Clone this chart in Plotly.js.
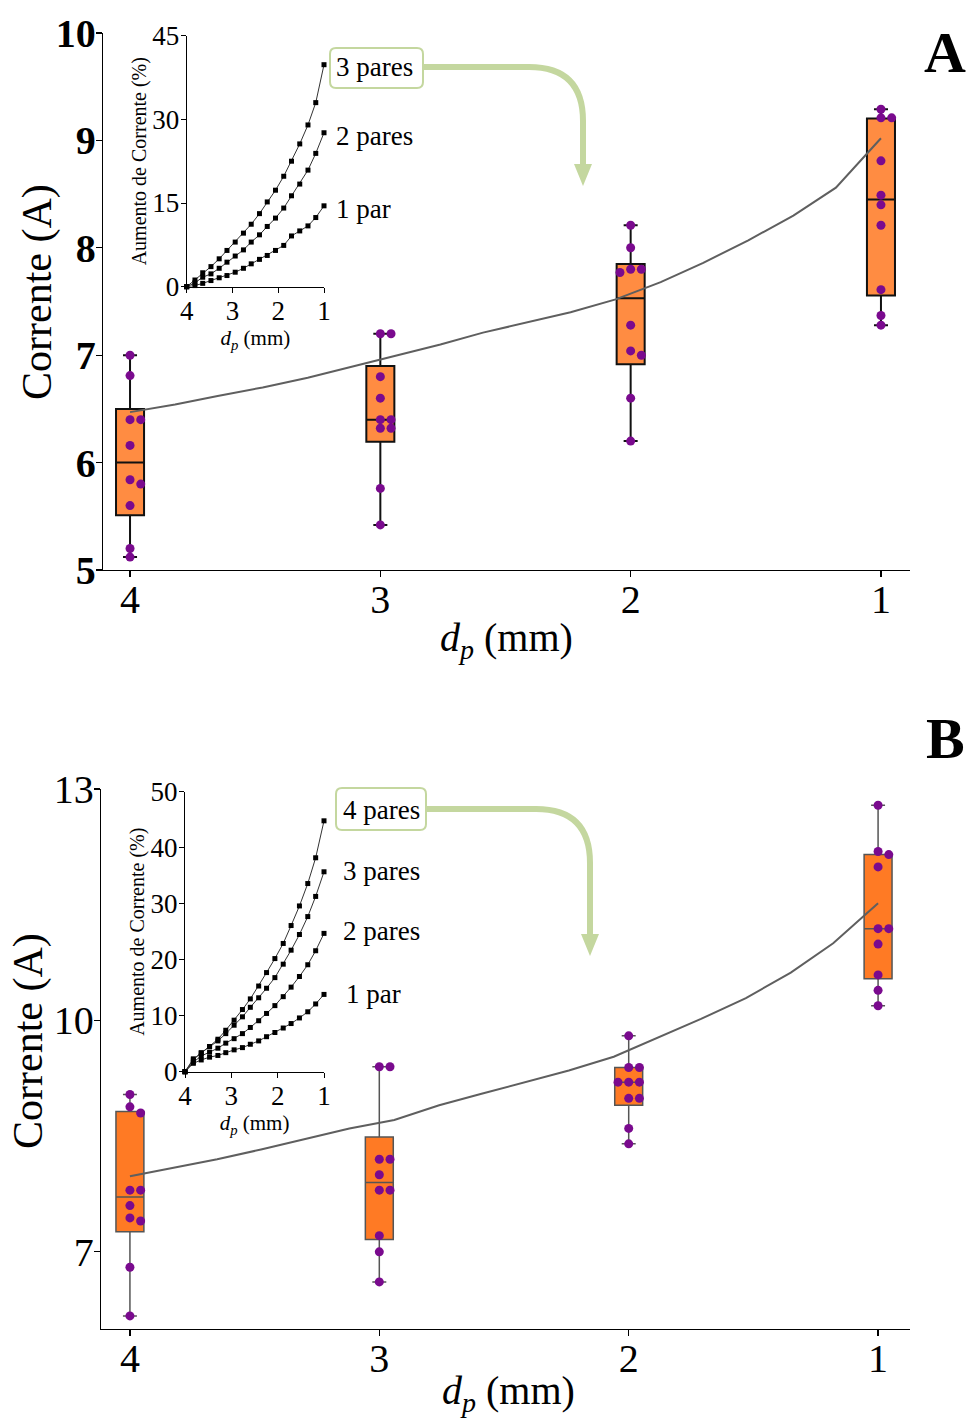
<!DOCTYPE html>
<html>
<head>
<meta charset="utf-8">
<script src="https://cdn.plot.ly/plotly-3.0.1.min.js"></script>
<style>html,body{margin:0;padding:0;background:#fff;}#chart{width:968px;height:1419px;}</style>
</head>
<body>
<div id="chart"></div>
<script>
// ---------------- DATA ----------------
const dpGroups = [4, 3, 2, 1];
const dpTickText = ['4', '3', '2', '1'];

// Panel A – individual measurements (A) per dp
const currentA_dp4 = [7.00, 6.81, 6.40, 6.40, 6.16, 5.84, 5.80, 5.60, 5.20, 5.12];
const currentA_dp3 = [7.20, 7.20, 6.80, 6.60, 6.40, 6.40, 6.32, 6.32, 5.76, 5.42];
const currentA_dp2 = [8.21, 8.00, 7.80, 7.80, 7.77, 7.28, 7.04, 7.00, 6.60, 6.20];
const currentA_dp1 = [9.29, 9.21, 9.21, 8.81, 8.49, 8.40, 8.21, 7.61, 7.37, 7.28];
// Panel A – box statistics
const lowA  = [5.12, 5.42, 6.20, 7.28];
const q1A   = [5.51, 6.195, 6.915, 7.555];
const medA  = [6.00, 6.40, 7.53, 8.45];
const q3A   = [6.50, 6.90, 7.85, 9.205];
const highA = [7.00, 7.20, 8.21, 9.29];

// Panel B – individual measurements
const currentB_dp4 = [9.04, 8.88, 8.80, 7.80, 7.80, 7.60, 7.44, 7.40, 6.80, 6.17];
const currentB_dp3 = [9.40, 9.40, 8.20, 8.20, 8.00, 7.80, 7.80, 7.21, 7.00, 6.61];
const currentB_dp2 = [9.80, 9.39, 9.39, 9.20, 9.20, 9.20, 8.99, 8.99, 8.60, 8.40];
const currentB_dp1 = [12.79, 12.19, 12.15, 11.99, 11.19, 11.19, 10.99, 10.59, 10.39, 10.19];
// Panel B – box statistics
const lowB  = [6.17, 6.61, 8.40, 10.19];
const q1B   = [7.26, 7.16, 8.90, 10.54];
const medB  = [7.71, 7.90, 9.20, 11.19];
const q3B   = [8.82, 8.49, 9.39, 12.15];
const highB = [9.04, 9.40, 9.80, 12.79];

// Model curves (dp grid)
const dpLine = [4.00, 3.82, 3.65, 3.47, 3.29, 3.12, 2.94, 2.76, 2.59, 2.41, 2.24, 2.06, 1.88, 1.71, 1.53, 1.35, 1.18, 1.00];
const modelA = [6.47, 6.54, 6.62, 6.70, 6.79, 6.89, 6.99, 7.10, 7.21, 7.31, 7.40, 7.52, 7.68, 7.86, 8.07, 8.30, 8.56, 9.02];
const modelB = [7.98, 8.09, 8.20, 8.33, 8.47, 8.60, 8.71, 8.90, 9.05, 9.20, 9.35, 9.53, 9.78, 10.02, 10.29, 10.62, 11.00, 11.52];

// Insets – current increase (%)
const incA_3pares = [0, 1.2, 2.5, 3.6, 5.0, 6.5, 8.0, 9.6, 11.2, 13.1, 15.2, 17.3, 19.8, 22.5, 25.6, 29.0, 33.0, 39.8];
const incA_2pares = [0, 0.7, 1.7, 2.3, 3.3, 4.4, 5.5, 6.6, 8.0, 9.3, 10.8, 12.3, 14.1, 16.3, 18.4, 20.9, 23.9, 27.6];
const incA_1par   = [0, 0.2, 0.6, 1.1, 1.6, 2.0, 2.6, 3.3, 4.1, 4.9, 5.6, 6.5, 7.4, 9.1, 10.0, 10.9, 12.4, 14.5];
const incB_4pares = [0, 2.3, 3.3, 4.5, 5.8, 7.4, 9.2, 11.1, 13.0, 15.3, 17.7, 20.2, 22.9, 26.1, 29.6, 33.6, 38.2, 44.8];
const incB_3pares = [0, 2.1, 3.4, 4.5, 5.5, 6.8, 8.3, 9.8, 11.5, 13.2, 14.9, 16.8, 19.2, 21.7, 24.5, 27.7, 31.3, 35.7];
const incB_2pares = [0, 1.7, 2.8, 3.5, 4.2, 5.1, 5.9, 6.8, 7.9, 9.1, 10.4, 11.8, 13.4, 15.1, 17.0, 19.1, 21.6, 24.7];
const incB_1par   = [0, 1.5, 2.1, 2.6, 2.9, 3.4, 3.9, 4.3, 4.9, 5.5, 6.25, 7.0, 7.8, 8.6, 9.6, 10.7, 12.1, 13.8];

const labelsA = ['3 pares', '2 pares', '1 par'];
const labelsB = ['4 pares', '3 pares', '2 pares', '1 par'];
const yTitle = 'Corrente (A)';
const xTitle = '<i>d<sub>p</sub></i> (mm)';
const insetYTitle = 'Aumento de Corrente (%)';

// ---------------- LAYOUT GEOMETRY ----------------
const W = 968, H = 1419;
const SERIF = '"Liberation Serif", "Times New Roman", "DejaVu Serif", serif';
const px = x => x / W;
const py = y => 1 - y / H;

const axA = {xdom: [px(103), px(910)], ydom: [py(570), py(33)], xr: [4.108, 0.884], yr: [5, 10]};
const axB = {xdom: [px(101), px(910)], ydom: [py(1329), py(789)], xr: [4.116, 0.872], yr: [6, 13]};
const inA = {xdom: [px(186.7), px(324)], ydom: [py(286.7), py(35.7)], xr: [4, 1], yr: [0, 45]};
const inB = {xdom: [px(185), px(324)], ydom: [py(1071.7), py(791.7)], xr: [4, 1], yr: [0, 50]};

function scale(ax) {
  return {
    x: (ax.xdom[1] - ax.xdom[0]) * W / (ax.xr[0] - ax.xr[1]),   // px per dp (reversed axis)
    y: (ax.ydom[1] - ax.ydom[0]) * H / (ax.yr[1] - ax.yr[0])
  };
}

// simple beeswarm: offset overlapping dots sideways
function swarmX(vals, center, sc) {
  const diam = 8, step = 10.7;
  const order = vals.map((v, i) => ({v, i})).sort((a, b) => b.v - a.v);
  const placed = [];
  const off = new Array(vals.length).fill(0);
  const cands = [0, step, -step, 2 * step, -2 * step, 3 * step, -3 * step];
  for (const p of order) {
    const yp = p.v * sc.y;
    for (const c of cands) {
      if (placed.every(q => Math.hypot(q.x - c, q.y - yp) >= diam)) {
        placed.push({x: c, y: yp});
        off[p.i] = c;
        break;
      }
    }
  }
  return vals.map((v, i) => center - off[i] / sc.x);
}

function pointsTrace(groups, ax, xa, ya) {
  const sc = scale(ax);
  let xs = [], ys = [];
  groups.forEach((vals, gi) => {
    xs = xs.concat(swarmX(vals, dpGroups[gi], sc));
    ys = ys.concat(vals);
  });
  return {type: 'scatter', mode: 'markers', x: xs, y: ys, xaxis: xa, yaxis: ya,
    marker: {color: '#7a0a8e', size: 9}, cliponaxis: false, showlegend: false, hoverinfo: 'y'};
}

function boxTrace(q1, med, q3, lo, hi, xa, ya, fill, lineColor, lineW) {
  return {type: 'box', x: dpGroups, q1: q1, median: med, q3: q3, lowerfence: lo, upperfence: hi,
    xaxis: xa, yaxis: ya, width: 0.112, whiskerwidth: 0.5, boxpoints: false,
    fillcolor: fill, line: {color: lineColor, width: lineW}, showlegend: false};
}

function lineTrace(y, xa, ya) {
  return {type: 'scatter', mode: 'lines', x: dpLine, y: y, xaxis: xa, yaxis: ya,
    line: {color: '#5f5f5f', width: 2}, showlegend: false};
}

function insetTrace(y, xa, ya) {
  return {type: 'scatter', mode: 'lines+markers', x: dpLine, y: y, xaxis: xa, yaxis: ya,
    line: {color: '#333', width: 1}, marker: {symbol: 'square', size: 5, color: '#000'},
    cliponaxis: false, showlegend: false};
}

const traces = [
  lineTrace(modelA, 'x', 'y'),
  boxTrace(q1A, medA, q3A, lowA, highA, 'x', 'y', 'rgba(255,118,30,0.84)', '#111', 2),
  pointsTrace([currentA_dp4, currentA_dp3, currentA_dp2, currentA_dp1], axA, 'x', 'y'),
  boxTrace(q1B, medB, q3B, lowB, highB, 'x2', 'y2', '#ff7a24', '#555', 1.5),
  lineTrace(modelB, 'x2', 'y2'),
  pointsTrace([currentB_dp4, currentB_dp3, currentB_dp2, currentB_dp1], axB, 'x2', 'y2'),
  insetTrace(incA_3pares, 'x3', 'y3'),
  insetTrace(incA_2pares, 'x3', 'y3'),
  insetTrace(incA_1par, 'x3', 'y3'),
  insetTrace(incB_4pares, 'x4', 'y4'),
  insetTrace(incB_3pares, 'x4', 'y4'),
  insetTrace(incB_2pares, 'x4', 'y4'),
  insetTrace(incB_1par, 'x4', 'y4')
];

function mainX(ax, anchor) {
  return {domain: ax.xdom, range: ax.xr, anchor: anchor, tickvals: dpGroups, ticktext: dpTickText,
    ticks: 'outside', ticklen: 6, tickwidth: 1.2, tickcolor: '#000', ticklabelstandoff: -12,
    showline: true, linecolor: '#000', linewidth: 1.2, showgrid: false, zeroline: false,
    tickfont: {family: SERIF, size: 40, color: '#000'}, automargin: false};
}
function mainY(ax, anchor, tickvals, bold) {
  return {domain: ax.ydom, range: ax.yr, anchor: anchor, tickvals: tickvals,
    ticks: 'outside', ticklen: 6, tickwidth: 1.2, tickcolor: '#000', ticklabelstandoff: -8,
    showline: true, linecolor: '#000', linewidth: 1.2, showgrid: false, zeroline: false,
    tickfont: {family: SERIF, size: 40, color: '#000', weight: bold ? 'bold' : 'normal'}, automargin: false};
}
function insetX(ax, anchor) {
  return {domain: ax.xdom, range: ax.xr, anchor: anchor, tickvals: dpGroups, ticktext: dpTickText,
    ticks: 'outside', ticklen: 5, tickwidth: 1, tickcolor: '#000', ticklabelstandoff: -5,
    showline: true, linecolor: '#000', linewidth: 1, showgrid: false, zeroline: false,
    tickfont: {family: SERIF, size: 27, color: '#000'}, automargin: false,
    title: {text: xTitle, font: {family: SERIF, size: 21, color: '#000'}, standoff: 4}};
}
function insetY(ax, anchor, dtick) {
  return {domain: ax.ydom, range: ax.yr, anchor: anchor, dtick: dtick, tick0: 0,
    ticks: 'outside', ticklen: 5, tickwidth: 1, tickcolor: '#000', ticklabelstandoff: -4,
    showline: true, linecolor: '#000', linewidth: 1, showgrid: false, zeroline: false,
    tickfont: {family: SERIF, size: 27, color: '#000'}, automargin: false,
    title: {text: insetYTitle, font: {family: SERIF, size: 20, color: '#000'}, standoff: 0}};
}

// decorations (paper pixel helpers)
const P = (x, y) => `${px(x)},${py(y)}`;
function roundRect(x0, y0, x1, y1, r) {
  return `M${P(x0 + r, y0)} L${P(x1 - r, y0)} Q${P(x1, y0)} ${P(x1, y0 + r)} L${P(x1, y1 - r)} Q${P(x1, y1)} ${P(x1 - r, y1)} L${P(x0 + r, y1)} Q${P(x0, y1)} ${P(x0, y1 - r)} L${P(x0, y0 + r)} Q${P(x0, y0)} ${P(x0 + r, y0)} Z`;
}
function bentArrow(x0, y0, xc, r, yEnd) {
  return `M${P(x0, y0)} L${P(xc - r, y0)} Q${P(xc, y0)} ${P(xc, y0 + r)} L${P(xc, yEnd)}`;
}
function head(xc, yTop, tip, hw) {
  return `M${P(xc - hw, yTop)} L${P(xc + hw, yTop)} L${P(xc, tip)} Z`;
}
const GREEN = '#c4d79f';
const shapes = [
  {type: 'path', xref: 'paper', yref: 'paper', path: bentArrow(423, 67, 583, 54, 166), line: {color: GREEN, width: 6}, layer: 'above'},
  {type: 'path', xref: 'paper', yref: 'paper', path: head(583, 164, 186, 9), fillcolor: GREEN, line: {width: 0}, layer: 'above'},
  {type: 'path', xref: 'paper', yref: 'paper', path: roundRect(330, 48, 423, 88, 6), fillcolor: '#fff', line: {color: GREEN, width: 2}, layer: 'above'},
  {type: 'path', xref: 'paper', yref: 'paper', path: bentArrow(426, 809, 590, 54, 936), line: {color: GREEN, width: 6}, layer: 'above'},
  {type: 'path', xref: 'paper', yref: 'paper', path: head(590, 934, 956, 9), fillcolor: GREEN, line: {width: 0}, layer: 'above'},
  {type: 'path', xref: 'paper', yref: 'paper', path: roundRect(336, 788, 426, 830, 6), fillcolor: '#fff', line: {color: GREEN, width: 2}, layer: 'above'}
];

function curveLabel(text, yv, xa, ya, xshift, yshift) {
  return {text: text, x: 1, y: yv, xref: xa, yref: ya, xanchor: 'left', yanchor: 'middle',
    xshift: xshift, yshift: yshift, showarrow: false, font: {family: SERIF, size: 27, color: '#000'}};
}
function titleAnn(text, cx, cy, angle, size) {
  return {text: text, x: px(cx), y: py(cy), xref: 'paper', yref: 'paper', xanchor: 'center', yanchor: 'middle',
    textangle: angle, showarrow: false, font: {family: SERIF, size: size, color: '#000'}};
}
const lastOf = a => a[a.length - 1];
const annotations = [
  curveLabel(labelsA[0], lastOf(incA_3pares), 'x3', 'y3', 10, -2),
  curveLabel(labelsA[1], lastOf(incA_2pares), 'x3', 'y3', 10, -3),
  curveLabel(labelsA[2], lastOf(incA_1par), 'x3', 'y3', 10, -3),
  curveLabel(labelsB[0], lastOf(incB_4pares), 'x4', 'y4', 17, 11),
  curveLabel(labelsB[1], lastOf(incB_3pares), 'x4', 'y4', 17, 1),
  curveLabel(labelsB[2], lastOf(incB_2pares), 'x4', 'y4', 17, 2),
  curveLabel(labelsB[3], lastOf(incB_1par), 'x4', 'y4', 20, 0),
  titleAnn(xTitle, 507, 640, 0, 40),
  titleAnn(xTitle, 508, 1393, 0, 40),
  titleAnn(yTitle, 38, 292, -90, 42),
  titleAnn(yTitle, 28, 1041, -90, 42),
  {text: '<b>A</b>', x: px(945), y: py(52), xref: 'paper', yref: 'paper', xanchor: 'center', yanchor: 'middle',
   showarrow: false, font: {family: SERIF, size: 58, color: '#000'}},
  {text: '<b>B</b>', x: px(945), y: py(738), xref: 'paper', yref: 'paper', xanchor: 'center', yanchor: 'middle',
   showarrow: false, font: {family: SERIF, size: 58, color: '#000'}}
];

const layout = {
  width: W, height: H, margin: {l: 0, r: 0, t: 0, b: 0},
  paper_bgcolor: '#fff', plot_bgcolor: 'rgba(0,0,0,0)', showlegend: false,
  font: {family: SERIF, color: '#000'},
  xaxis: mainX(axA, 'y'), yaxis: mainY(axA, 'x', [5, 6, 7, 8, 9, 10], true),
  xaxis2: mainX(axB, 'y2'), yaxis2: mainY(axB, 'x2', [7, 10, 13], false),
  xaxis3: insetX(inA, 'y3'), yaxis3: insetY(inA, 'x3', 15),
  xaxis4: insetX(inB, 'y4'), yaxis4: insetY(inB, 'x4', 10),
  shapes: shapes, annotations: annotations
};

Plotly.newPlot('chart', traces, layout, {staticPlot: true, displayModeBar: false});
</script>
</body>
</html>
